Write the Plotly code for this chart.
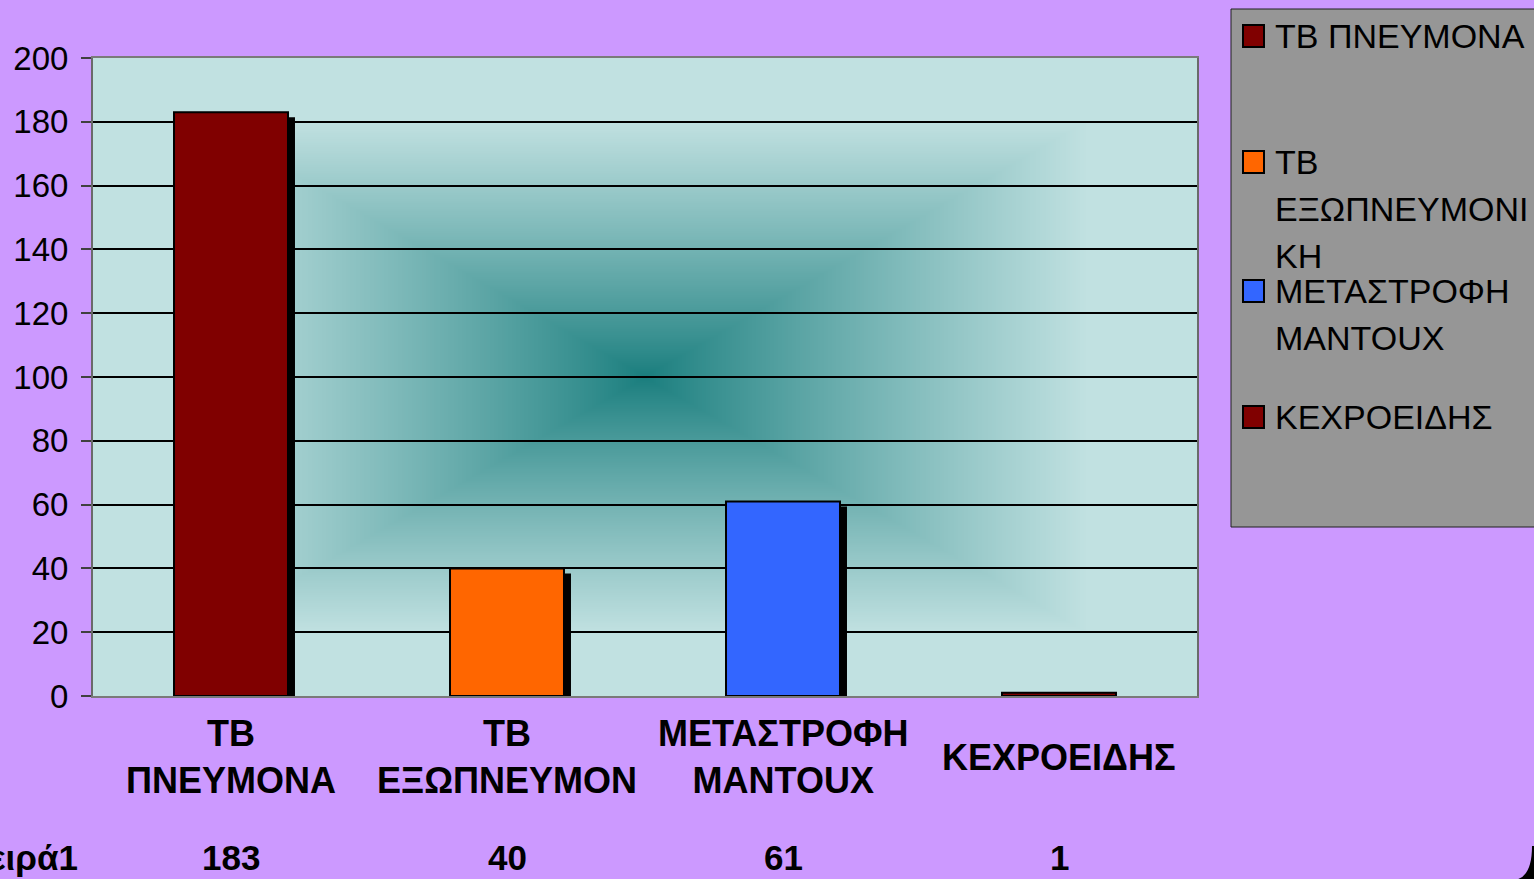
import base64, struct, zlib
import numpy as np
import plotly.graph_objects as go

# ---------------- data ----------------
categories = ["ΤΒ ΠΝΕΥΜΟΝΑ", "ΤΒ ΕΞΩΠΝΕΥΜΟΝΙΚΗ", "ΜΕΤΑΣΤΡΟΦΗ MANTOUX", "ΚΕΧΡΟΕΙΔΗΣ"]
axis_labels = ["ΤΒ<br>ΠΝΕΥΜΟΝΑ", "ΤΒ<br>ΕΞΩΠΝΕΥΜΟΝ", "ΜΕΤΑΣΤΡΟΦΗ<br>MANTOUX", "ΚΕΧΡΟΕΙΔΗΣ"]
legend_labels = ["ΤΒ ΠΝΕΥΜΟΝΑ", "ΤΒ<br>ΕΞΩΠΝΕΥΜΟΝΙ<br>ΚΗ", "ΜΕΤΑΣΤΡΟΦΗ<br>MANTOUX", "ΚΕΧΡΟΕΙΔΗΣ"]
values = [183, 40, 61, 1]
series_name = "Σειρά1"
bar_colors = ["#800000", "#FF6600", "#3366FF", "#800000"]
y_ticks = [0, 20, 40, 60, 80, 100, 120, 140, 160, 180, 200]

# ---------------- geometry ----------------
W, H = 1534, 879
L, R, T, B = 93, 337, 58, 183
PW, PH = W - L - R, H - T - B
FONT = "Liberation Sans, Arial, sans-serif"


def px(X):
    return (X - L) / PW


def py(Y):
    return (H - B - Y) / PH


# ---------------- background gradient image ----------------
def png_uri(arr):
    h, w, _ = arr.shape
    raw = b"".join(b"\x00" + arr[i].tobytes() for i in range(h))

    def chunk(tag, data):
        c = tag + data
        return struct.pack(">I", len(data)) + c + struct.pack(">I", zlib.crc32(c) & 0xFFFFFFFF)

    png = b"\x89PNG\r\n\x1a\n" + chunk(b"IHDR", struct.pack(">IIBBBBB", w, h, 8, 2, 0, 0, 0))
    png += chunk(b"IDAT", zlib.compress(raw, 9)) + chunk(b"IEND", b"")
    return "data:image/png;base64," + base64.b64encode(png).decode()


gw, gh = 552, 319
gx = (np.arange(gw) + 0.5) / gw * 2 - 1
gy = (np.arange(gh) + 0.5) / gh * 2 - 1
t = np.maximum(np.abs(gx)[None, :], np.abs(gy)[:, None])
f = np.clip(t / 0.8, 0, 1) ** 0.9
c_center = np.array([26, 126, 126], dtype=float)
c_edge = np.array([193, 225, 225], dtype=float)
img = (c_center[None, None, :] + f[:, :, None] * (c_edge - c_center)[None, None, :]).round().astype(np.uint8)
bg_uri = png_uri(img)

# ---------------- figure ----------------
fig = go.Figure()

bar_w = 0.413
shadow_dx = 7 / (PW / len(categories))
shadow_dy = 5 / (PH / 200)

fig.add_trace(go.Bar(
    x=categories, y=[max(v - shadow_dy, 0) for v in values],
    width=bar_w, offset=-bar_w / 2 + shadow_dx,
    marker=dict(color="black", line=dict(width=0)),
    showlegend=False, hoverinfo="skip",
))
for cat, v, col in zip(categories, values, bar_colors):
    fig.add_trace(go.Bar(
        x=[cat], y=[v], name=cat, width=bar_w, offset=-bar_w / 2,
        marker=dict(color=col, line=dict(color="black", width=2)),
        showlegend=False,
    ))

annotations = []
# category labels
for cat, lab in zip(categories, axis_labels):
    annotations.append(dict(
        x=cat, xref="x", y=py(757), yref="paper", text="<b>%s</b>" % lab,
        showarrow=False, xanchor="center", yanchor="middle",
        font=dict(family=FONT, size=36, color="black"), align="center",
    ))
# data table row
annotations.append(dict(
    x=px(80), xref="paper", y=py(858), yref="paper", text="<b>%s</b>" % series_name,
    showarrow=False, xanchor="right", yanchor="middle",
    font=dict(family=FONT, size=35, color="black"),
))
for cat, v in zip(categories, values):
    annotations.append(dict(
        x=cat, xref="x", y=py(858), yref="paper", text="<b>%d</b>" % v,
        showarrow=False, xanchor="center", yanchor="middle",
        font=dict(family=FONT, size=35, color="black"),
    ))

# manual legend
shapes = [dict(type="rect", xref="paper", yref="paper",
               x0=px(1231), x1=px(1545), y0=py(527), y1=py(9),
               fillcolor="#969696", line=dict(color="#202020", width=1), layer="above")]
legend_y = [36, 162, 291, 417]
line_step = 47
for lab, col, ly in zip(legend_labels, bar_colors, legend_y):
    shapes.append(dict(type="rect", xref="paper", yref="paper",
                       x0=px(1243), x1=px(1264), y0=py(ly + 11), y1=py(ly - 11),
                       fillcolor=col, line=dict(color="black", width=2), layer="above"))
    for i, part in enumerate(lab.split("<br>")):
        annotations.append(dict(
            x=px(1273), xref="paper", y=py(ly + i * line_step), yref="paper", text=part,
            showarrow=False, xanchor="left", yanchor="middle", align="left",
            font=dict(family=FONT, size=34, color="black"),
        ))

# rounded slide corner at bottom-right
shapes.append(dict(type="path", xref="paper", yref="paper", path=(
    "M %f,%f L %f,%f L %f,%f Q %f,%f %f,%f Z" % (
        px(1535), py(846), px(1535), py(880), px(1514), py(880),
        px(1532), py(878), px(1532), py(846))),
    fillcolor="black", line=dict(width=0), layer="above"))

fig.update_layout(
    width=W, height=H,
    margin=dict(l=L, r=R, t=T, b=B, pad=0, autoexpand=False),
    paper_bgcolor="#CC99FF",
    plot_bgcolor="#C0E0E0",
    barmode="overlay",
    showlegend=False,
    images=[dict(source=bg_uri, xref="paper", yref="paper", x=0, y=1,
                 sizex=1, sizey=1, sizing="stretch", layer="below", xanchor="left", yanchor="top")],
    annotations=annotations,
    shapes=shapes,
    xaxis=dict(
        categoryorder="array", categoryarray=categories,
        range=[-0.5, len(categories) - 0.5],
        showticklabels=False, ticks="", showgrid=False, zeroline=False,
        showline=True, linecolor="#7a7a7a", linewidth=2, mirror=True,
    ),
    yaxis=dict(
        range=[0, 200], tickvals=y_ticks, ticktext=[str(v) for v in y_ticks],
        ticks="outside", ticklen=10, tickwidth=1.5, tickcolor="#404040",
        ticklabelstandoff=6,
        tickfont=dict(family=FONT, size=33, color="black"),
        showgrid=True, gridcolor="black", gridwidth=1.5,
        zeroline=False, showline=True, linecolor="#6a6a6a", linewidth=2, mirror=True,
    ),
    font=dict(family=FONT),
)

fig.write_html(
    "out.html",
    config={"displayModeBar": False},
    post_script="document.body.style.margin='0';document.body.style.overflow='hidden';",
)
